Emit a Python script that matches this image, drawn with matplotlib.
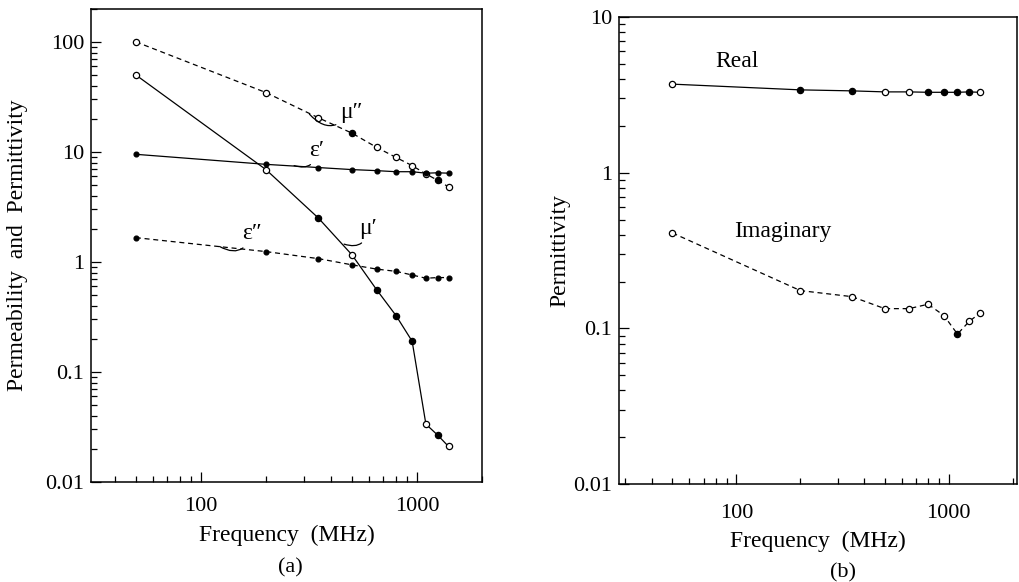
import numpy as np
import matplotlib
matplotlib.use("Agg")
import matplotlib.pyplot as plt
import matplotlib.ticker as ticker

plt.rcParams['font.family'] = ['Liberation Serif', 'DejaVu Serif']
plt.rcParams['font.size'] = 16

# Frequencies (MHz)
freq = [50, 200, 350, 500, 650, 800, 950, 1100, 1250, 1400]

# (a) permeability and permittivity
mu_im = [100, 34.6, 20.4, 14.8, 11.0, 8.9, 7.5, 6.3, 5.5, 4.8]
mu_re = [50, 6.9, 2.5, 1.16, 0.56, 0.325, 0.19, 0.0335, 0.0265, 0.021]
eps_re = [9.5, 7.7, 7.2, 6.9, 6.75, 6.6, 6.6, 6.4, 6.45, 6.4]
eps_im = [1.66, 1.24, 1.07, 0.94, 0.86, 0.82, 0.76, 0.71, 0.72, 0.72]

# (b) permittivity
perm_re = [3.7, 3.4, 3.35, 3.3, 3.3, 3.28, 3.28, 3.28, 3.3, 3.28]
perm_im = [0.41, 0.175, 0.16, 0.134, 0.134, 0.143, 0.121, 0.092, 0.111, 0.125]

# which markers are drawn solid
mu_re_filled = [False, False, True, False, True, True, True, False, True, False]
mu_im_filled = [False, False, False, True, False, False, False, False, True, False]
perm_re_filled = [False, True, True, False, False, True, True, True, True, False]
perm_im_filled = [False] * 7 + [True, False, False]


def plot_series(ax, x, y, ls, filled, ms=4.5):
    ax.plot(x, y, color='black', ls=ls, lw=0.9, dashes=(4, 3) if ls == '--' else (None, None))
    x = np.array(x)
    y = np.array(y)
    f = np.array(filled)
    ax.plot(x[f], y[f], 'o', ms=ms, mfc='black', mec='black', mew=0.9)
    ax.plot(x[~f], y[~f], 'o', ms=ms, mfc='white', mec='black', mew=0.9)


def style_axes(ax, xlim, ylim, xpad):
    ax.set_xscale('log')
    ax.set_yscale('log')
    ax.set_xlim(*xlim)
    ax.set_ylim(*ylim)
    ax.xaxis.set_major_formatter(ticker.FuncFormatter(lambda v, p: '%g' % v))
    ax.yaxis.set_major_formatter(ticker.FuncFormatter(lambda v, p: '%g' % v))
    ax.xaxis.set_minor_formatter(ticker.NullFormatter())
    ax.yaxis.set_minor_formatter(ticker.NullFormatter())
    ax.tick_params(which='both', direction='in', top=False, right=False, width=0.9)
    ax.tick_params(which='major', length=7, labelsize=16)
    ax.tick_params(axis='y', which='major', pad=5)
    ax.tick_params(axis='x', which='major', pad=xpad)
    ax.tick_params(which='minor', length=4)
    for s in ax.spines.values():
        s.set_linewidth(1.1)
    ax.set_xlabel('Frequency  (MHz)', fontsize=17, labelpad=6)


fig = plt.figure(figsize=(10.19, 5.82), dpi=100)
ax1 = fig.add_axes([0.0893, 0.172, 0.3837, 0.813])
ax2 = fig.add_axes([0.6075, 0.168, 0.3906, 0.803])

# panel (a)
plot_series(ax1, freq, mu_im, '--', mu_im_filled)
plot_series(ax1, freq, mu_re, '-', mu_re_filled)
plot_series(ax1, freq, eps_re, '-', [True] * 10, ms=3.5)
plot_series(ax1, freq, eps_im, '--', [True] * 10, ms=3.5)
style_axes(ax1, (31, 2000), (0.01, 200), xpad=11)
ax1.set_ylabel('Permeability  and  Permittivity', fontsize=17, labelpad=12)

lead = dict(arrowstyle='-', lw=0.9, color='black', connectionstyle='arc3,rad=-0.6',
            shrinkA=1, shrinkB=0)
ax1.annotate('μ″', xy=(318, 22), xytext=(440, 23), ha='left', va='center',
             fontsize=17, arrowprops=lead)
ax1.annotate('ε′', xy=(270, 7.5), xytext=(318, 10.3), ha='left', va='center',
             fontsize=17, arrowprops=lead)
ax1.annotate('μ′', xy=(460, 1.45), xytext=(540, 2.0), ha='left', va='center',
             fontsize=17, arrowprops=lead)
ax1.annotate('ε″', xy=(122, 1.38), xytext=(155, 1.8), ha='left', va='center',
             fontsize=17, arrowprops=lead)
fig.text(0.285, 0.024, '(a)', ha='center', va='center', fontsize=16)

# panel (b)
plot_series(ax2, freq, perm_re, '-', perm_re_filled)
plot_series(ax2, freq, perm_im, '--', perm_im_filled)
style_axes(ax2, (28, 2100), (0.01, 10), xpad=14)
ax2.set_ylabel('Permittivity', fontsize=17, labelpad=2)
ax2.text(80, 5.2, 'Real', fontsize=17, ha='left', va='center')
ax2.text(165, 0.42, 'Imaginary', fontsize=17, ha='center', va='center')
fig.text(0.827, 0.015, '(b)', ha='center', va='center', fontsize=16)

fig.savefig('out.png', dpi=100)
